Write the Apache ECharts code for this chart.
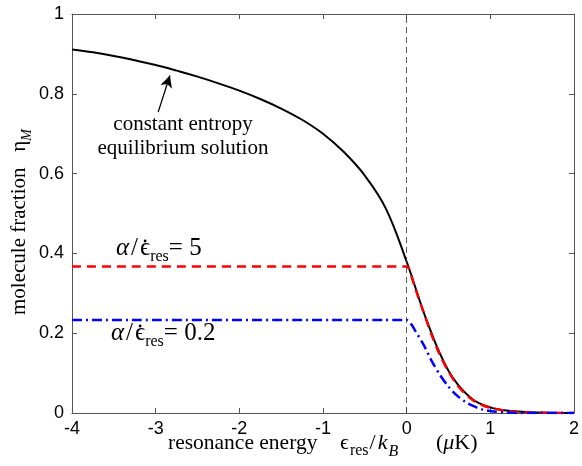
<!DOCTYPE html>
<html><head><meta charset="utf-8">
<script src="https://cdn.jsdelivr.net/npm/echarts@6/dist/echarts.min.js"></script>
<style>html,body{margin:0;padding:0;background:#fff}#c{width:582px;height:466px}</style>
</head><body><div id="c"></div>
<script>
// ---- data ----
const xTicks = [-4, -3, -2, -1, 0, 1, 2];
const yTicks = [0, 0.2, 0.4, 0.6, 0.8, 1];
const eqX = [-4, -3.75, -3.5, -3.25, -3, -2.75, -2.5, -2.25, -2, -1.75, -1.5, -1.25, -1, -0.75, -0.5, -0.25, 0, 0.25, 0.5, 0.75, 1, 1.25, 1.5, 1.75, 2];
const eqY = [0.911, 0.904, 0.895, 0.884, 0.872, 0.858, 0.843, 0.826, 0.808, 0.787, 0.763, 0.735, 0.700, 0.654, 0.595, 0.513, 0.379, 0.226, 0.106, 0.041, 0.014, 0.005, 0.002, 0.0005, 0.0];
const fastX = [-4, 0, 0.03, 0.1, 0.2, 0.3, 0.4, 0.5, 0.6, 0.7, 0.8, 0.9, 1.0, 1.2, 1.5, 2];
const fastY = [0.367, 0.367, 0.360, 0.314, 0.254, 0.195, 0.144, 0.104, 0.071, 0.048, 0.031, 0.020, 0.013, 0.005, 0.001, 0.0];
const slowX = [-4, 0, 0.05, 0.1, 0.2, 0.3, 0.4, 0.5, 0.6, 0.7, 0.8, 0.9, 1.0, 1.2, 1.5, 2];
const slowY = [0.233, 0.233, 0.224, 0.207, 0.172, 0.130, 0.095, 0.066, 0.044, 0.028, 0.017, 0.009, 0.005, 0.001, 0.0, 0.0];
const arrowFrom = [-2.97, 0.754];
const arrowTo = [-2.83, 0.846];

const zip = (xs, ys) => xs.map((x, i) => [x, ys[i]]);
const chart = echarts.init(document.getElementById('c'));
const axisCol = '#555';
const tickFont = {fontFamily: 'Liberation Sans', fontSize: 18, color: '#000'};
const fmtY = v => (v === 0 ? '0' : v === 1 ? '1' : String(+v.toFixed(1)));
const tickStyle = {inside: true, length: 5, lineStyle: {color: axisCol}};

chart.setOption({
  animation: false,
  grid: {left: 72, right: 7, top: 14, bottom: 53},
  xAxis: [
    {type: 'value', min: -4, max: 2, interval: 1, position: 'bottom',
     axisLine: {onZero: false, lineStyle: {color: axisCol, width: 1}}, axisTick: tickStyle,
     axisLabel: Object.assign({margin: 7}, tickFont), splitLine: {show: false}},
    {type: 'value', min: -4, max: 2, interval: 1, position: 'top',
     axisLine: {show: true, onZero: false, lineStyle: {color: axisCol, width: 1}}, axisTick: tickStyle,
     axisLabel: {show: false}, splitLine: {show: false}}
  ],
  yAxis: [
    {type: 'value', min: 0, max: 1, interval: 0.2, position: 'left',
     axisLine: {show: true, onZero: false, lineStyle: {color: axisCol, width: 1}}, axisTick: Object.assign({show: true}, tickStyle),
     axisLabel: Object.assign({margin: 8, formatter: fmtY}, tickFont), splitLine: {show: false}},
    {type: 'value', min: 0, max: 1, interval: 0.2, position: 'right',
     axisLine: {show: true, onZero: false, lineStyle: {color: axisCol, width: 1}}, axisTick: Object.assign({show: true}, tickStyle),
     axisLabel: {show: false}, splitLine: {show: false}}
  ],
  series: [
    {type: 'line', name: 'equilibrium', data: zip(eqX, eqY), showSymbol: false, smooth: 0.4,
     lineStyle: {color: '#000', width: 2}, z: 3,
     markLine: {silent: true, symbol: ['none', 'arrow'], symbolSize: [9, 12],
       label: {show: false},
       lineStyle: {color: '#000', width: 1.3, type: 'solid'},
       data: [[{coord: arrowFrom}, {coord: arrowTo}]]}},
    {type: 'line', name: 'fast', data: zip(fastX, fastY), showSymbol: false, smooth: 0.3,
     lineStyle: {color: '#ff0000', width: 2.5, type: [9, 6]}, z: 4,
     markLine: {silent: true, symbol: ['none', 'none'], label: {show: false},
       lineStyle: {color: '#333', width: 0.8, type: [6, 4]},
       data: [{xAxis: 0}]}},
    {type: 'line', name: 'slow', data: zip(slowX, slowY), showSymbol: false, smooth: 0.3,
     lineStyle: {color: '#0000ff', width: 2.5, type: [10, 4, 2, 4]}, z: 4}
  ]
});

// ---- math-like text layout helper ----
const SERIF = '"Liberation Serif", "DejaVu Serif", serif';
const mctx = document.createElement('canvas').getContext('2d');
function fontStr(p) { return (p.it ? 'italic ' : '') + p.size + 'px ' + SERIF; }
function layout(parts) {
  let x = 0; const out = [];
  parts.forEach(p => {
    if (p.at !== undefined) x = p.at;
    mctx.font = fontStr(p);
    const w = mctx.measureText(p.t).width;
    if (p.dotAbove) {
      out.push({type: 'circle', shape: {cx: x + w / 2 + (p.dotDx || 0), cy: -p.dotH, r: 1.4}, style: {fill: '#000'}});
    }
    out.push({type: 'text', x: x, y: (p.dy || 0) - 0.3375 * p.size, style: {text: p.t, font: fontStr(p), fill: '#000', align: 'left', verticalAlign: 'middle'}});
    x += w + (p.kern || 0);
  });
  return {children: out, width: x};
}
function mathGroup(parts, x, baseline) {
  const L = layout(parts);
  return {type: 'group', x: x, y: baseline, children: L.children};
}

const S = 25, SS = 16;
const lab1 = [
  {t: 'α', size: S, it: true, kern: 2}, {t: '/', size: S, kern: 2}, {t: 'ϵ', size: S, dotAbove: true, dotH: 16},
  {t: 'res', size: SS, dy: 5}, {t: '= 5', size: S}
];
const lab2 = [
  {t: 'α', size: S, it: true, kern: 2}, {t: '/', size: S, kern: 2}, {t: 'ϵ', size: S, dotAbove: true, dotH: 16},
  {t: 'res', size: SS, dy: 5}, {t: '= 0.2', size: S}
];
const xTitle = [
  {t: 'resonance energy', size: 21.5},
  {t: 'ϵ', size: 22, at: 172, kern: 1}, {t: 'res', size: 16, dy: 5, kern: 1}, {t: '/', size: 22, kern: 2},
  {t: 'k', size: 22, it: true, kern: 1}, {t: 'B', size: 16, it: true, dy: 6},
  {t: '(', size: 22, at: 268}, {t: 'μ', size: 22, it: true}, {t: 'K)', size: 22}
];
const yTitle = [
  {t: 'molecule fraction   η', size: 21}, {t: 'M', size: 14, it: true, dy: 5}
];

const yT = layout(yTitle);
chart.setOption({
  graphic: [
    {type: 'text', x: 183, y: 124, style: {text: 'constant entropy', font: '21px ' + SERIF, fill: '#000', align: 'center', verticalAlign: 'middle'}},
    {type: 'text', x: 183, y: 148, style: {text: 'equilibrium solution', font: '21px ' + SERIF, fill: '#000', align: 'center', verticalAlign: 'middle'}},
    mathGroup(lab1, 116, 257),
    mathGroup(lab2, 111, 342),
    mathGroup(xTitle, 168, 451),
    {type: 'group', x: 27, y: 315, rotation: Math.PI / 2, children: yT.children}
  ]
});
</script></body></html>
